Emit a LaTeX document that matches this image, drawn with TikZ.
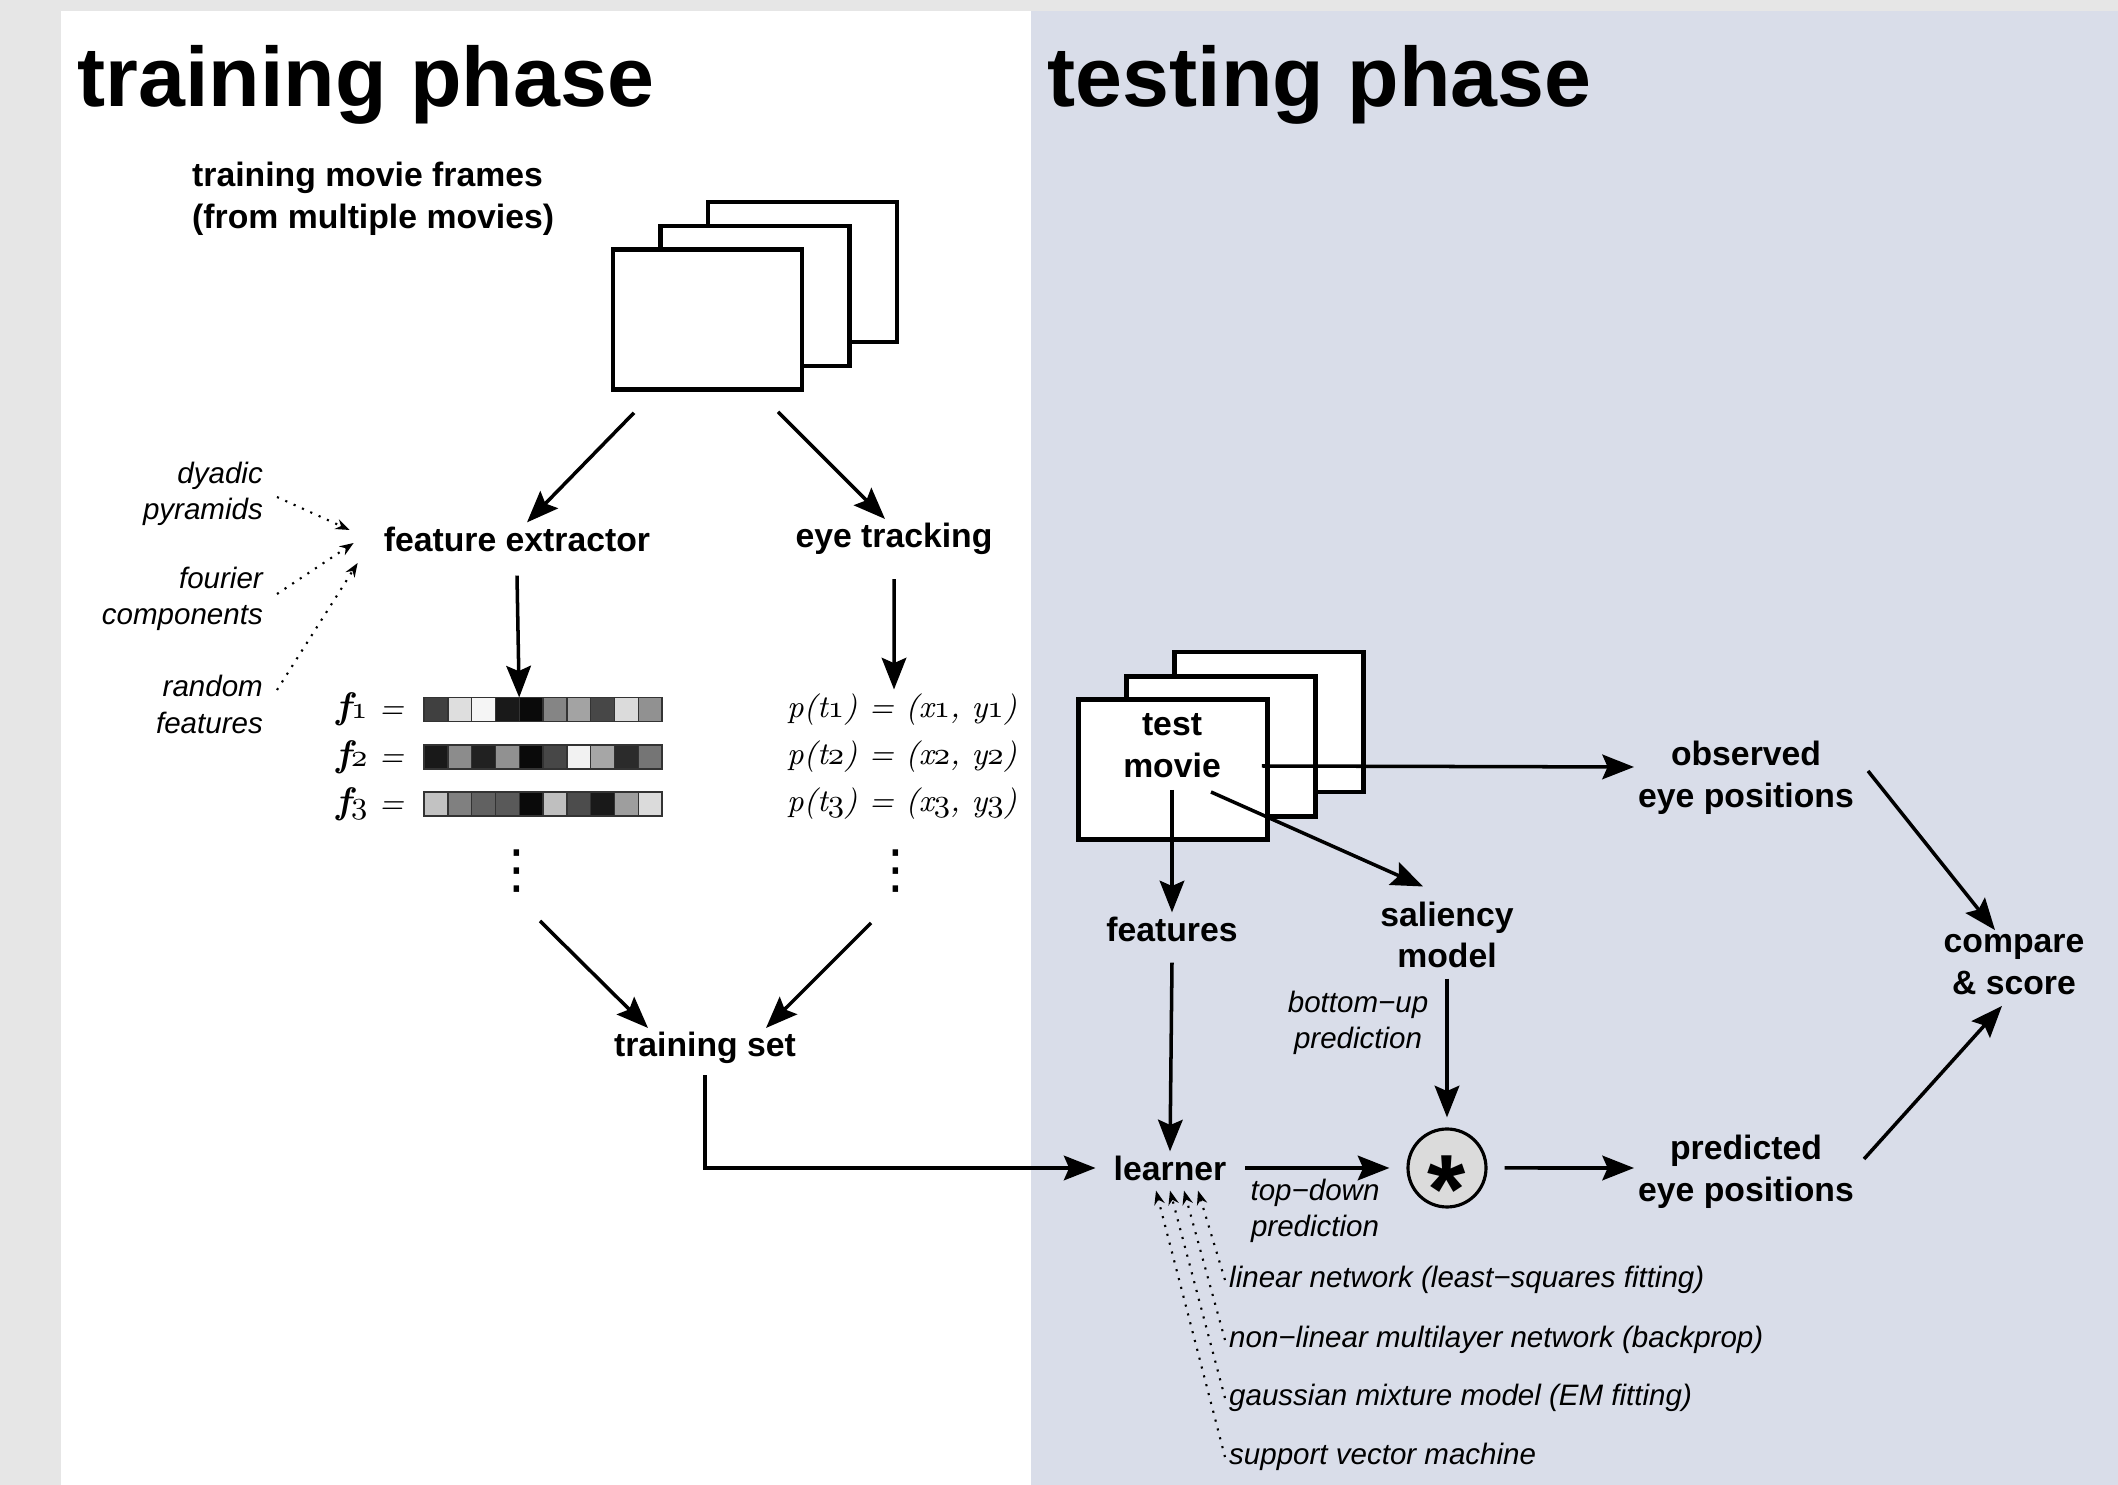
\documentclass[tikz,border=0pt]{standalone}
\usepackage{fontspec}
\newfontfamily\hel{Liberation Sans}
\newfontfamily\dejavu{DejaVu Sans}
\usetikzlibrary{arrows.meta,positioning}
\definecolor{testbg}{RGB}{217,221,233}
\definecolor{pagegray}{RGB}{230,230,230}
\newcommand\osn[1]{{\fontencoding{OML}\fontfamily{cmm}\fontseries{m}\fontshape{it}\selectfont #1}}

\tikzset{
  phasetitle/.style={font=\hel\bfseries\fontsize{24}{28}\selectfont, anchor=base west, inner sep=0pt},
  lbl/.style={font=\hel\bfseries\fontsize{9.6}{11.9}\selectfont, align=center, inner sep=1pt},
  note/.style={font=\hel\itshape\fontsize{8.4}{10.4}\selectfont, inner sep=1pt},
  eqn/.style={font=\itshape\fontsize{9}{11}\selectfont, inner sep=1pt},
  dots/.style={font=\dejavu\fontsize{15}{15}\selectfont, inner sep=0pt},
  movieframe/.style={draw, fill=white, line width=1.3pt, minimum width=1.89cm, minimum height=1.40cm, inner sep=0pt},
  cell/.style={draw=black!80, line width=0.4pt, minimum width=0.238cm, minimum height=0.24cm, inner sep=0pt, outer sep=0pt},
  mulnode/.style={circle, draw, fill=black!14, line width=0.9pt, minimum size=0.78cm, inner sep=0pt, font=\hel\bfseries\fontsize{28}{28}\selectfont},
  flow/.style={->, line width=1pt},
  hint/.style={-{Stealth[length=4pt,width=3pt]}, dotted, line width=0.6pt},
}

\begin{document}
\begin{tikzpicture}[>={Stealth[length=9pt,width=7pt,inset=1.5pt]}]
    \fill[pagegray] (0,0) rectangle (21.18,-14.85);
    \fill[white] (0.61,-0.11) rectangle (10.31,-14.85);
    \fill[testbg] (10.31,-0.11) rectangle (21.18,-14.85);
    \useasboundingbox (0,0) rectangle (21.18,-14.85);

    \node[phasetitle] (trainhead) at (0.77,-1.07) {training phase};
    \node[phasetitle] (testhead) at (10.47,-1.07) {testing phase};

    \node[lbl, align=left, anchor=west] (trainlbl) at (1.88,-1.99) {training movie frames\\(from multiple movies)};
    \node[movieframe] (tf3) at (8.025,-2.72) {};
    \node[movieframe] (tf2) at (7.55,-2.96) {};
    \node[movieframe] (tf1) at (7.075,-3.195) {};

    \node[lbl] (fe) at (5.17,-5.39) {feature extractor};
    \node[lbl] (et) at (8.94,-5.39) {eye tracking};

    \node[note, align=right, anchor=east] (dy) at (2.67,-4.94) {dyadic\\pyramids};
    \node[note, align=right, anchor=east] (fc) at (2.67,-5.99) {fourier\\components};
    \node[note, align=right, anchor=east] (rf) at (2.67,-7.045) {random\\features};

    \foreach \row/\yy/\shades in {1/-7.095/{75,13,4,90,96,48,36,72,14,43},
                                  2/-7.57/{90,45,87,43,96,72,5,35,83,54},
                                  3/-8.04/{24,50,62,65,96,25,70,90,38,14}} {
        \node[eqn, anchor=east] (f\row) at (4.08,\yy) {{\fontsize{10.5}{11}\selectfont\textbf{f}}\osn{\row} =};
        \node[eqn] (p\row) at (9.02,\yy) {p(t\osn{\row}) = (x\osn{\row}, y\osn{\row})};
        \foreach \s [count=\i] in \shades
            \node[cell, fill=black!\s] (c\row-\i) at ({4.24+(\i-0.5)*0.238},\yy) {};
    }
    \node[dots] (vd1) at (5.17,-8.71) {⋮};
    \node[dots] (vd2) at (8.96,-8.71) {⋮};

    \node[lbl] (ts) at (7.05,-10.48) {training set};

    \node[movieframe] (tm3) at (12.69,-7.22) {};
    \node[movieframe] (tm2) at (12.21,-7.465) {};
    \node[movieframe] (tm1) at (11.73,-7.695) {};
    \node[lbl] (testlbl) at (11.72,-7.455) {test\\movie};

    \node[lbl] (obs) at (17.46,-7.775) {observed\\eye positions};
    \node[lbl] (feat) at (11.72,-9.29) {features};
    \node[lbl] (sal) at (14.47,-9.35) {saliency\\model};
    \node[note, align=center] (bu) at (13.58,-10.23) {bottom−up\\prediction};
    \node[lbl] (lrn) at (11.70,-11.68) {learner};
    \node[mulnode] (mult) at (14.47,-11.68) {\raisebox{-0.56em}[0.3em][0.3em]{*}};
    \node[note, align=center] (td) at (13.15,-12.11) {top−down\\prediction};
    \node[lbl] (pred) at (17.46,-11.72) {predicted\\eye positions};
    \node[lbl] (cmp) at (20.14,-9.645) {compare\\\& score};

    \node[note, anchor=west] (lin) at (12.25,-12.80) {linear network (least−squares fitting)};
    \node[note, anchor=west] (nonlin) at (12.25,-13.40) {non−linear multilayer network (backprop)};
    \node[note, anchor=west] (gmm) at (12.25,-13.98) {gaussian mixture model (EM fitting)};
    \node[note, anchor=west] (svm) at (12.25,-14.57) {support vector machine};

    \draw[flow] ([xshift=-0.735cm,yshift=-0.21cm]tf1.south) -- ([xshift=0.1cm]fe.north);
    \draw[flow] ([xshift=0.705cm,yshift=-0.2cm]tf1.south) -- ([xshift=-0.09cm]et.north);
    \draw[flow] ([yshift=-0.2cm]fe.south) -- (c1-5.north west);
    \draw[flow] ([yshift=-0.2cm]et.south) -- ([xshift=-0.08cm]p1.north);
    \draw[hint] ([xshift=0.1cm,yshift=-0.03cm]dy.east) -- ([xshift=-0.3cm,yshift=0.09cm]fe.west);
    \draw[hint] ([xshift=0.1cm,yshift=0.05cm]fc.east) -- ([xshift=-0.26cm,yshift=-0.04cm]fe.west);
    \draw[hint] ([xshift=0.1cm,yshift=0.145cm]rf.east) -- ([xshift=-0.22cm,yshift=-0.24cm]fe.west);
    \draw[flow] ([xshift=0.23cm,yshift=-0.5cm]vd1.center) -- ([xshift=-0.57cm]ts.north);
    \draw[flow] ([xshift=-0.25cm,yshift=-0.52cm]vd2.center) -- ([xshift=0.61cm]ts.north);
    \draw[flow, shorten >=0.14cm] ([yshift=-0.07cm]ts.south) |- (lrn.west);

    \draw[flow] ([xshift=0.37cm,yshift=-0.205cm]testlbl.east) -- ([yshift=0.105cm]obs.west);
    \draw[flow] ([yshift=-0.08cm]testlbl.south) -- (feat.north);
    \draw[flow] ([xshift=0.39cm,yshift=-0.465cm]testlbl.center) -- ([xshift=-0.24cm,yshift=0.11cm]sal.north);
    \draw[flow] ([yshift=-0.17cm]feat.south) -- (lrn.north);
    \draw[flow, shorten >=0.1cm] ([yshift=-0.06cm]sal.south) -- (mult.north);
    \draw[flow, shorten >=0.17cm] ([xshift=0.15cm]lrn.east) -- (mult.west);
    \draw[flow] ([xshift=0.17cm]mult.east) -- ([yshift=0.04cm]pred.west);
    \draw[flow] ([xshift=0.1cm,yshift=0.065cm]obs.east) -- ([xshift=-0.19cm]cmp.north);
    \draw[flow] ([xshift=0.06cm,yshift=0.13cm]pred.east) -- ([xshift=-0.12cm,yshift=-0.07cm]cmp.south);

    \draw[hint] (lin.west) -- ([xshift=0.28cm,yshift=-0.06cm]lrn.south);
    \draw[hint] (nonlin.west) -- ([xshift=0.14cm,yshift=-0.06cm]lrn.south);
    \draw[hint] (gmm.west) -- ([yshift=-0.06cm]lrn.south);
    \draw[hint] (svm.west) -- ([xshift=-0.14cm,yshift=-0.06cm]lrn.south);
\end{tikzpicture}
\end{document}
